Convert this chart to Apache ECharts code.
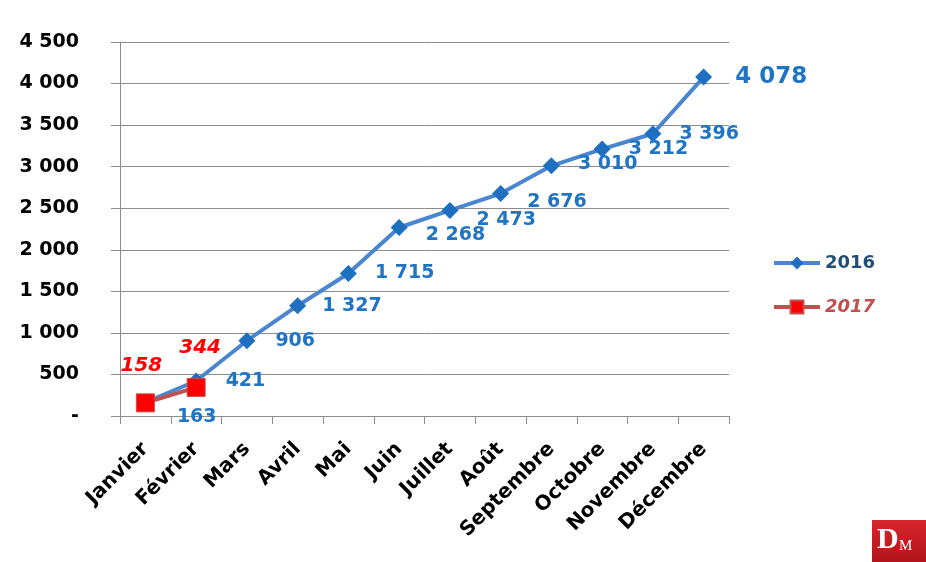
<!DOCTYPE html>
<html><head><meta charset="utf-8">
<script src="https://cdn.jsdelivr.net/npm/echarts@6/dist/echarts.min.js"></script>
<style>html,body{margin:0;padding:0;background:#fff}#c{width:926px;height:562px}</style>
</head><body><div id="c"></div>
<script>
var months = ['Janvier','Février','Mars','Avril','Mai','Juin','Juillet','Août','Septembre','Octobre','Novembre','Décembre'];
var values2016 = [163,421,906,1327,1715,2268,2473,2676,3010,3212,3396,4078];
var values2017 = [158,344];
var seriesNames = ['2016','2017'];

function fmt(v){ return String(v).replace(/\B(?=(\d{3})+(?!\d))/g,' '); }

var FONT = '"DejaVu Sans"';
// label offsets (styling only)
var off2016 = [[5,15],[3,0],[2,0],[-2,0],[0,0],[0,8],[0,10],[0,8],[0,-2],[0,0],[0,0],[5,0]];
var off2017 = [[-4,0],[4,-2]];

var data2016 = values2016.map(function(v,i){
  var last = i === values2016.length-1;
  return {value:v, label:{offset:off2016[i], fontSize:last?23:19}};
});
var data2017 = values2017.map(function(v,i){
  return {value:v, label:{offset:off2017[i]}};
});

var chart = echarts.init(document.getElementById('c'));
chart.setOption({
  animation:false,
  backgroundColor:'#fff',
  textStyle:{fontFamily:FONT},
  grid:{left:120,right:197,top:42,bottom:146,containLabel:false},
  legend:{
    orient:'vertical', left:767, top:249, itemGap:26, itemWidth:46, itemHeight:16,
    textStyle:{fontFamily:FONT,fontWeight:'bold',fontSize:18},
    lineStyle:{width:4},
    data:[
      {name:seriesNames[0], textStyle:{color:'#1f4e79'}},
      {name:seriesNames[1], textStyle:{color:'#c0504d',fontStyle:'italic'}}
    ]
  },
  xAxis:{
    type:'category', data:months, boundaryGap:true,
    axisLine:{lineStyle:{color:'#8c8c8c',width:1}},
    axisTick:{show:true,length:8,lineStyle:{color:'#8c8c8c'}},
    axisLabel:{rotate:45,color:'#000',fontWeight:'bold',fontSize:20,fontFamily:FONT,margin:30,interval:0}
  },
  yAxis:{
    type:'value', min:0, max:4500, interval:500,
    axisLine:{show:true,lineStyle:{color:'#8c8c8c',width:1}},
    axisTick:{show:true,length:9,lineStyle:{color:'#8c8c8c'}},
    splitLine:{lineStyle:{color:'#8c8c8c',width:1}},
    axisLabel:{color:'#000',fontWeight:'bold',fontSize:19,fontFamily:FONT,margin:41,align:'right',
      formatter:function(v){return v===0?'-':fmt(v);}}
  },
  series:[
    {
      name:seriesNames[0], type:'line', data:data2016,
      symbol:'diamond', symbolSize:17,
      lineStyle:{color:'#4a86d0',width:4},
      itemStyle:{color:'#1f6fc0'},
      label:{show:true,position:'right',distance:18,color:'#1f74c4',fontWeight:'bold',fontSize:19,fontFamily:FONT,
        formatter:function(p){return fmt(p.value);}},
      z:2
    },
    {
      name:seriesNames[1], type:'line', data:data2017,
      symbol:'rect', symbolSize:18,
      lineStyle:{color:'#c0504d',width:4},
      itemStyle:{color:'#ff0000',borderColor:'#c0504d',borderWidth:1},
      label:{show:true,position:'top',distance:18,color:'#ff0000',fontWeight:'bold',fontStyle:'italic',fontSize:20,fontFamily:FONT,
        formatter:function(p){return fmt(p.value);}},
      z:3
    }
  ],
  graphic:[
    {type:'group', left:872, top:520, children:[
      {type:'rect', shape:{x:0,y:0,width:54,height:42},
        style:{fill:new echarts.graphic.LinearGradient(0,0,0,1,[{offset:0,color:'#d8262c'},{offset:1,color:'#b0141a'}])}},
      {type:'text', left:5, top:5, style:{text:'D',fill:'#fff',font:'bold 30px "Liberation Serif"'}},
      {type:'text', left:27, top:19, style:{text:'M',fill:'#fff',font:'15px "Liberation Serif"'}}
    ]}
  ]
});
</script></body></html>
